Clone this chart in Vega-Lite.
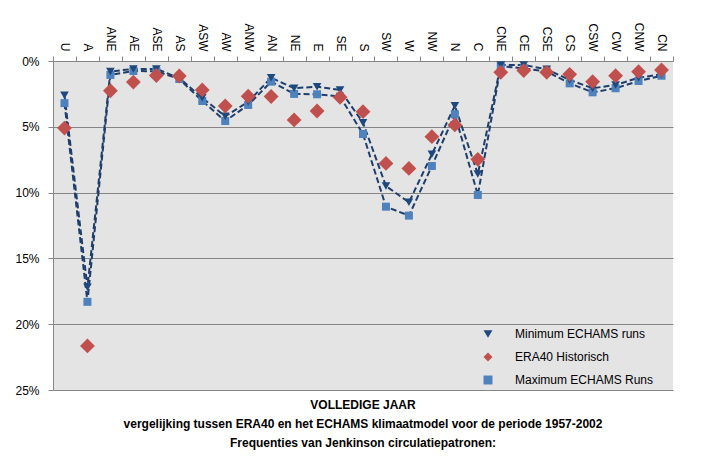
{
  "$schema": "https://vega.github.io/schema/vega-lite/v6.json",
  "width": 620,
  "height": 329,
  "autosize": {"type": "none"},
  "padding": {"left": 53, "top": 61, "right": 37, "bottom": 72},
  "background": "white",
  "config": {
    "font": "Liberation Sans",
    "view": {"fill": "#e4e4e4", "stroke": null}
  },
  "title": {
    "text": ["VOLLEDIGE JAAR", "vergelijking tussen ERA40 en het ECHAMS klimaatmodel voor de periode 1957-2002", "Frequenties van Jenkinson circulatiepatronen:"],
    "orient": "bottom",
    "anchor": "middle",
    "fontSize": 12,
    "fontWeight": "bold",
    "lineHeight": 19,
    "offset": 4,
    "color": "#000000"
  },
  "data": {
    "values": [
      {"cat": "U", "series": "Maximum ECHAMS Runs", "value": 0.032},
      {"cat": "A", "series": "Maximum ECHAMS Runs", "value": 0.183},
      {"cat": "ANE", "series": "Maximum ECHAMS Runs", "value": 0.0106},
      {"cat": "AE", "series": "Maximum ECHAMS Runs", "value": 0.0076},
      {"cat": "ASE", "series": "Maximum ECHAMS Runs", "value": 0.0078},
      {"cat": "AS", "series": "Maximum ECHAMS Runs", "value": 0.0137},
      {"cat": "ASW", "series": "Maximum ECHAMS Runs", "value": 0.0304},
      {"cat": "AW", "series": "Maximum ECHAMS Runs", "value": 0.0456},
      {"cat": "ANW", "series": "Maximum ECHAMS Runs", "value": 0.0334},
      {"cat": "AN", "series": "Maximum ECHAMS Runs", "value": 0.0157},
      {"cat": "NE", "series": "Maximum ECHAMS Runs", "value": 0.025},
      {"cat": "E", "series": "Maximum ECHAMS Runs", "value": 0.0253},
      {"cat": "SE", "series": "Maximum ECHAMS Runs", "value": 0.027},
      {"cat": "S", "series": "Maximum ECHAMS Runs", "value": 0.0555},
      {"cat": "SW", "series": "Maximum ECHAMS Runs", "value": 0.1107},
      {"cat": "W", "series": "Maximum ECHAMS Runs", "value": 0.1175},
      {"cat": "NW", "series": "Maximum ECHAMS Runs", "value": 0.0798},
      {"cat": "N", "series": "Maximum ECHAMS Runs", "value": 0.0405},
      {"cat": "C", "series": "Maximum ECHAMS Runs", "value": 0.1018},
      {"cat": "CNE", "series": "Maximum ECHAMS Runs", "value": 0.004},
      {"cat": "CE", "series": "Maximum ECHAMS Runs", "value": 0.0056},
      {"cat": "CSE", "series": "Maximum ECHAMS Runs", "value": 0.008},
      {"cat": "CS", "series": "Maximum ECHAMS Runs", "value": 0.017},
      {"cat": "CSW", "series": "Maximum ECHAMS Runs", "value": 0.0238},
      {"cat": "CW", "series": "Maximum ECHAMS Runs", "value": 0.0207},
      {"cat": "CNW", "series": "Maximum ECHAMS Runs", "value": 0.0152},
      {"cat": "CN", "series": "Maximum ECHAMS Runs", "value": 0.0112},
      {"cat": "U", "series": "Minimum ECHAMS runs", "value": 0.026},
      {"cat": "A", "series": "Minimum ECHAMS runs", "value": 0.172},
      {"cat": "ANE", "series": "Minimum ECHAMS runs", "value": 0.008},
      {"cat": "AE", "series": "Minimum ECHAMS runs", "value": 0.006},
      {"cat": "ASE", "series": "Minimum ECHAMS runs", "value": 0.006},
      {"cat": "AS", "series": "Minimum ECHAMS runs", "value": 0.013},
      {"cat": "ASW", "series": "Minimum ECHAMS runs", "value": 0.028},
      {"cat": "AW", "series": "Minimum ECHAMS runs", "value": 0.042},
      {"cat": "ANW", "series": "Minimum ECHAMS runs", "value": 0.031},
      {"cat": "AN", "series": "Minimum ECHAMS runs", "value": 0.0127},
      {"cat": "NE", "series": "Minimum ECHAMS runs", "value": 0.0207},
      {"cat": "E", "series": "Minimum ECHAMS runs", "value": 0.0195},
      {"cat": "SE", "series": "Minimum ECHAMS runs", "value": 0.022},
      {"cat": "S", "series": "Minimum ECHAMS runs", "value": 0.0469},
      {"cat": "SW", "series": "Minimum ECHAMS runs", "value": 0.095},
      {"cat": "W", "series": "Minimum ECHAMS runs", "value": 0.1074},
      {"cat": "NW", "series": "Minimum ECHAMS runs", "value": 0.0709},
      {"cat": "N", "series": "Minimum ECHAMS runs", "value": 0.034},
      {"cat": "C", "series": "Minimum ECHAMS runs", "value": 0.0859},
      {"cat": "CNE", "series": "Minimum ECHAMS runs", "value": 0.003},
      {"cat": "CE", "series": "Minimum ECHAMS runs", "value": 0.003},
      {"cat": "CSE", "series": "Minimum ECHAMS runs", "value": 0.0063},
      {"cat": "CS", "series": "Minimum ECHAMS runs", "value": 0.0144},
      {"cat": "CSW", "series": "Minimum ECHAMS runs", "value": 0.0207},
      {"cat": "CW", "series": "Minimum ECHAMS runs", "value": 0.0182},
      {"cat": "CNW", "series": "Minimum ECHAMS runs", "value": 0.0127},
      {"cat": "CN", "series": "Minimum ECHAMS runs", "value": 0.0101},
      {"cat": "U", "series": "ERA40 Historisch", "value": 0.051},
      {"cat": "A", "series": "ERA40 Historisch", "value": 0.2165},
      {"cat": "ANE", "series": "ERA40 Historisch", "value": 0.0226},
      {"cat": "AE", "series": "ERA40 Historisch", "value": 0.016},
      {"cat": "ASE", "series": "ERA40 Historisch", "value": 0.011},
      {"cat": "AS", "series": "ERA40 Historisch", "value": 0.0114},
      {"cat": "ASW", "series": "ERA40 Historisch", "value": 0.022},
      {"cat": "AW", "series": "ERA40 Historisch", "value": 0.0342},
      {"cat": "ANW", "series": "ERA40 Historisch", "value": 0.0268},
      {"cat": "AN", "series": "ERA40 Historisch", "value": 0.027},
      {"cat": "NE", "series": "ERA40 Historisch", "value": 0.0448},
      {"cat": "E", "series": "ERA40 Historisch", "value": 0.038},
      {"cat": "SE", "series": "ERA40 Historisch", "value": 0.0276},
      {"cat": "S", "series": "ERA40 Historisch", "value": 0.0385},
      {"cat": "SW", "series": "ERA40 Historisch", "value": 0.0778},
      {"cat": "W", "series": "ERA40 Historisch", "value": 0.0816},
      {"cat": "NW", "series": "ERA40 Historisch", "value": 0.0575},
      {"cat": "N", "series": "ERA40 Historisch", "value": 0.0486},
      {"cat": "C", "series": "ERA40 Historisch", "value": 0.0747},
      {"cat": "CNE", "series": "ERA40 Historisch", "value": 0.0086},
      {"cat": "CE", "series": "ERA40 Historisch", "value": 0.0073},
      {"cat": "CSE", "series": "ERA40 Historisch", "value": 0.0086},
      {"cat": "CS", "series": "ERA40 Historisch", "value": 0.0101},
      {"cat": "CSW", "series": "ERA40 Historisch", "value": 0.0157},
      {"cat": "CW", "series": "ERA40 Historisch", "value": 0.0112},
      {"cat": "CNW", "series": "ERA40 Historisch", "value": 0.0081},
      {"cat": "CN", "series": "ERA40 Historisch", "value": 0.0068}
    ]
  },
  "encoding": {
    "x": {
      "field": "cat",
      "type": "nominal",
      "sort": ["U", "A", "ANE", "AE", "ASE", "AS", "ASW", "AW", "ANW", "AN", "NE", "E", "SE", "S", "SW", "W", "NW", "N", "C", "CNE", "CE", "CSE", "CS", "CSW", "CW", "CNW", "CN"],
      "scale": {"type": "band", "paddingInner": 0, "paddingOuter": 0},
      "axis": {
        "orient": "top",
        "title": null,
        "labelAngle": 90,
        "labelAlign": "right",
        "labelBaseline": "middle",
        "tickBand": "extent",
        "tickSize": 5,
        "tickColor": "#868686",
        "domainColor": "#868686",
        "labelFontSize": 12,
        "labelPadding": 5,
        "labelColor": "#000000",
        "grid": false
      }
    },
    "y": {
      "field": "value",
      "type": "quantitative",
      "scale": {"domain": [0, 0.25], "reverse": true, "nice": false},
      "axis": {
        "orient": "left",
        "title": null,
        "format": ".0%",
        "values": [0, 0.05, 0.1, 0.15, 0.2, 0.25],
        "grid": true,
        "gridColor": "#868686",
        "gridOpacity": 1,
        "tickSize": 5,
        "tickColor": "#868686",
        "domainColor": "#868686",
        "labelFontSize": 12,
        "labelPadding": 9,
        "labelColor": "#000000"
      }
    },
    "color": {
      "field": "series",
      "scale": {
        "domain": ["Minimum ECHAMS runs", "ERA40 Historisch", "Maximum ECHAMS Runs"],
        "range": ["#1f497d", "#c0504d", "#4f81bd"]
      },
      "legend": {
        "title": null,
        "orient": "none",
        "legendX": 429,
        "legendY": 267,
        "labelFontSize": 12,
        "labelColor": "#000000",
        "symbolSize": 80,
        "rowPadding": 11,
        "labelOffset": 21
      }
    },
    "shape": {
      "field": "series",
      "scale": {
        "domain": ["Minimum ECHAMS runs", "ERA40 Historisch", "Maximum ECHAMS Runs"],
        "range": ["triangle-down", "diamond", "square"]
      }
    }
  },
  "layer": [
    {
      "transform": [{"filter": "datum.series !== 'ERA40 Historisch'"}],
      "mark": {"type": "line", "strokeDash": [6, 3], "strokeWidth": 2, "color": "#1f3e6b"},
      "encoding": {
        "color": {"value": "#1f3e6b"},
        "shape": null,
        "detail": {"field": "series"},
        "order": {"value": null}
      }
    },
    {
      "transform": [{"filter": "datum.series === 'Maximum ECHAMS Runs'"}],
      "mark": {"type": "point", "filled": true, "opacity": 1, "size": 64}
    },
    {
      "transform": [{"filter": "datum.series === 'Minimum ECHAMS runs'"}],
      "mark": {"type": "point", "filled": true, "opacity": 1, "size": 75}
    },
    {
      "transform": [{"filter": "datum.series === 'ERA40 Historisch'"}],
      "mark": {"type": "point", "filled": true, "opacity": 1, "size": 220}
    }
  ]
}
